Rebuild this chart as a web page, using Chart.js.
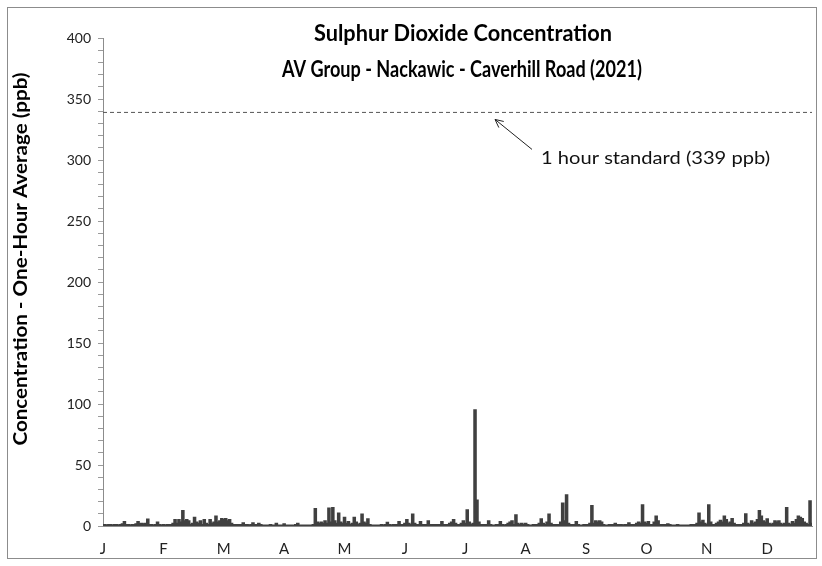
<!DOCTYPE html>
<html>
<head>
<meta charset="utf-8">
<script src="https://cdn.jsdelivr.net/npm/chart.js@4"></script>
<style>
html,body{margin:0;padding:0;background:#fff;}
#wrap{position:relative;width:822px;height:566px;}
</style>
</head>
<body>
<div id="wrap"><canvas id="c" width="822" height="566"></canvas></div>
<script>
const titleLines = ["Sulphur Dioxide Concentration", "AV Group - Nackawic - Caverhill Road (2021)"];
const yAxisTitle = "Concentration - One-Hour Average (ppb)";
const monthLabels = ["J","F","M","A","M","J","J","A","S","O","N","D"];
const monthTickDays = [0,31,62,93,124,155,186,217,248,279,310,341];
const standardValue = 339;
const standardLabel = "1 hour standard (339 ppb)";
// Daily peak SO2 (ppb), day 0 = Jan 1
const so2Jan = [1,1,0.5,1,1,0.5,1,1,0.5,1,1.5,3.5,1,1,0.5,1,1,1.5,3.5,2,2,1.5,2,5.5,1,1,0.5,1,3,1,0.5];
const so2Feb = [1,0.5,1,1,1,2,5,2,5,3,12.5,4,5,4,1,2,7,3,2,4,1,5,2,1,5,2,3,8];
const so2Mar = [3,4,6,5,6,4,5,2,1,1,1,1,1,2.5,1,1,0.5,1,2.5,1,1,2,1,0.5,0.5,0.5,0.5,1,0.5,0.5,2];
const so2Apr = [0.5,0.5,0.5,1.5,0.5,0.5,0.5,0.5,0.5,1,2,0.5,0.5,0.5,0.5,0.5,0.5,0.5,1,14,3,2,3,2,4,2,14.5,3,15,4];
const so2May = [2,10.5,3,2,7,2,3.5,1,2,7,3,1,2,9.5,3,2,5.7,1,0.5,0.5,0.5,0.5,0.5,1,0.5,1,2.8,1,0.5,1,1];
const so2Jun = [1,3.5,1,1,2,5,2,1,9.5,2,1,1,3.5,1,1,1,4,1,1,1,1,1,1,3.5,1,1,1,2,3,5];
const so2Jul = [2,1,1,2,4,2,13,3,1,2,95,21,3,1,1,1,1,4,1,0.5,0.5,1,1,3.5,1,0.5,1,2,3,4,1];
const so2Aug = [9,2,1,2,1,2,1,0.5,0.5,1,1,1,2,5.7,2,1,3,9.5,2,1,1,1,1,3,18.6,4,25.4,2,1,1,1];
const so2Sep = [3.5,1,0.5,0.5,1,1,1,2,16.6,2,4,3,4,3,1,0.5,0.5,1,1,1,2,1,1,1,0.5,1,1,2.5,1,1];
const so2Oct = [1,2,3,2,17.2,3,2,3.5,1,1,3,8,4,1,1,1,1,1.5,1,0.5,0.5,0.5,1,0.5,0.5,0.5,0.5,0.5,0.5,1,1];
const so2Nov = [1,2,10.4,3,4.5,2,1,17.2,3,1,1,2,3,4.5,3,8,5,2,3,6,2,1,1,1,1,2,9.8,2,1,4];
const so2Dec = [2,3,5,12.5,8,4,3,5.7,2,1,2,4,3,4,2,1,2,15,2,1,3.5,2,5,8,7,6,3,2,1,20.5,2];

const so2 = [].concat(so2Jan,so2Feb,so2Mar,so2Apr,so2May,so2Jun,so2Jul,so2Aug,so2Sep,so2Oct,so2Nov,so2Dec);
const lastDay = so2.length - 1;

const FONT = "Lato, 'Open Sans', sans-serif";

function fitText(ctx, text, cx, cy, targetW, font, align){
  ctx.save();
  ctx.font = font;
  ctx.textBaseline = 'middle';
  ctx.textAlign = 'left';
  const w = ctx.measureText(text).width;
  const k = targetW / w;
  const left = align === 'left' ? cx : cx - targetW/2;
  ctx.translate(left, cy);
  ctx.scale(k, 1);
  ctx.fillText(text, 0, 0);
  ctx.restore();
}

const decorPlugin = {
  id: 'decor',
  beforeDraw(chart){
    const ctx = chart.ctx;
    ctx.save();
    ctx.fillStyle = '#fff';
    ctx.fillRect(0,0,chart.width,chart.height);
    ctx.restore();
  },
  afterDraw(chart){
    const ctx = chart.ctx;
    const ys = chart.scales.y;
    ctx.save();
    // outer border
    ctx.strokeStyle = '#8c8c8c';
    ctx.lineWidth = 1;
    ctx.strokeRect(7.5, 7.5, 809, 551);
    // title
    ctx.fillStyle = '#000';
    fitText(ctx, titleLines[0], 463, 34, 298, "bold 22px " + FONT, 'center');
    fitText(ctx, titleLines[1], 462, 70, 360, "bold 22px " + FONT, 'center');
    // y axis title
    ctx.save();
    ctx.translate(21, 259);
    ctx.rotate(-Math.PI/2);
    fitText(ctx, yAxisTitle, 0, 0, 373, "bold 19px " + FONT, 'center');
    ctx.restore();
    // annotation
    const yStd = ys.getPixelForValue(standardValue);
    ctx.fillStyle = '#111';
    fitText(ctx, standardLabel, 541, yStd + 46, 229, "18px " + FONT, 'left');
    // arrow
    const tx = 495, ty = yStd + 7, sx = 532, sy = yStd + 37;
    ctx.strokeStyle = '#222';
    ctx.lineWidth = 1;
    ctx.beginPath();
    ctx.moveTo(sx, sy); ctx.lineTo(tx, ty);
    const ang = Math.atan2(sy - ty, sx - tx);
    const L = 9, a = 0.45;
    ctx.moveTo(tx + L*Math.cos(ang - a), ty + L*Math.sin(ang - a));
    ctx.lineTo(tx, ty);
    ctx.lineTo(tx + L*Math.cos(ang + a), ty + L*Math.sin(ang + a));
    ctx.stroke();
    ctx.restore();
  }
};

new Chart(document.getElementById('c'), {
  type: 'line',
  data: {
    datasets: [
      {
        data: so2.map((v,i)=>({x:i, y:v})),
        borderColor: '#404040',
        backgroundColor: '#404040',
        borderWidth: 1.6,
        pointRadius: 0,
        stepped: 'middle',
        fill: 'origin'
      },
      {
        data: [{x:0, y:standardValue},{x:lastDay, y:standardValue}],
        borderColor: '#555',
        borderWidth: 1,
        borderDash: [4,3],
        pointRadius: 0,
        fill: false
      }
    ]
  },
  options: {
    responsive: false,
    animation: false,
    layout: { padding: { left: 0, right: 10, top: 38, bottom: 0 } },
    plugins: { legend: { display: false }, tooltip: { enabled: false }, title: { display: false }, filler: { propagate: false } },
    scales: {
      x: {
        type: 'linear',
        min: 0,
        max: lastDay,
        afterBuildTicks: (s) => { s.ticks = monthTickDays.map(v=>({value:v})); },
        afterFit: (s) => { s.height = 40; },
        grid: { display: false, drawTicks: false },
        border: { display: true, color: '#8c8c8c', width: 1 },
        ticks: {
          autoSkip: false,
          maxRotation: 0,
          padding: 14,
          color: '#222',
          font: { family: FONT, size: 15 },
          callback: (v, i) => monthLabels[i]
        }
      },
      y: {
        min: 0,
        max: 400,
        afterFit: (s) => { s.width = 103; },
        grid: { drawOnChartArea: false, drawTicks: true, tickLength: 5, color: '#9a9a9a' },
        border: { display: true, color: '#8c8c8c', width: 1 },
        ticks: {
          stepSize: 10,
          autoSkip: false,
          padding: 7,
          color: '#222',
          font: { family: FONT, size: 14 },
          callback: (v) => (v % 50 === 0 ? String(v) : '')
        }
      }
    }
  },
  plugins: [decorPlugin]
});
</script>
</body>
</html>
